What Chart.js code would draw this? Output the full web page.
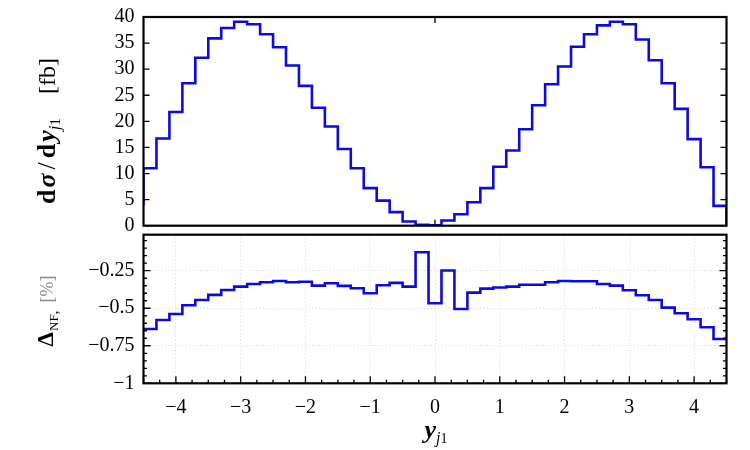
<!DOCTYPE html>
<html><head><meta charset="utf-8">
<script src="https://cdn.jsdelivr.net/npm/chart.js@4/dist/chart.umd.min.js"></script>
<style>
html,body{margin:0;padding:0;background:#fff;}
#wrap{position:relative;width:750px;height:450px;background:#fff;}
canvas{position:absolute;left:0;top:0;}
</style></head><body>
<div id="wrap"><canvas id="c1" width="750" height="450"></canvas><canvas id="c2" width="750" height="450"></canvas></div>
<script>
// ---- data ----
const binEdges = [-4.5,-4.3,-4.1,-3.9,-3.7,-3.5,-3.3,-3.1,-2.9,-2.7,-2.5,-2.3,-2.1,-1.9,-1.7,-1.5,-1.3,-1.1,-0.9,-0.7,-0.5,-0.3,-0.1,0.1,0.3,0.5,0.7,0.9,1.1,1.3,1.5,1.7,1.9,2.1,2.3,2.5,2.7,2.9,3.1,3.3,3.5,3.7,3.9,4.1,4.3,4.5];
const xsecValues = [11.0,16.7,21.8,27.3,32.2,35.9,37.9,39.1,38.6,36.7,34.2,30.7,26.8,22.6,19.0,14.7,11.0,7.2,4.8,2.6,0.8,0.15,0.1,1.0,2.2,4.5,7.2,11.3,14.4,18.5,23.1,27.1,30.5,34.3,36.7,38.4,39.1,38.6,35.7,31.7,27.3,22.4,16.6,11.2,3.8];
const xsecUnderflow = 3.9;
const xsecOverflow = 0;
const deltaValues = [-0.638,-0.578,-0.538,-0.48,-0.445,-0.411,-0.378,-0.356,-0.338,-0.327,-0.318,-0.327,-0.323,-0.349,-0.333,-0.351,-0.367,-0.40,-0.347,-0.331,-0.356,-0.127,-0.467,-0.249,-0.505,-0.396,-0.369,-0.362,-0.356,-0.343,-0.343,-0.327,-0.318,-0.32,-0.32,-0.338,-0.349,-0.38,-0.413,-0.445,-0.496,-0.533,-0.573,-0.627,-0.705];
const xTickLabels = [-4,-3,-2,-1,0,1,2,3,4];
const yTicksTop = [0,5,10,15,20,25,30,35,40];
const yTicksBottom = [-1,-0.75,-0.5,-0.25];

const SERIF = "'Liberation Serif', 'DejaVu Serif', serif";
const BLUE = 'rgb(10,10,225)';
Chart.defaults.font.family = SERIF;
Chart.defaults.font.size = 20;
Chart.defaults.color = '#000';

function fmt(v){ return (v < 0 ? '\u2212' : '') + String(Math.abs(v)); }

// histogram points (stepped 'before': horizontal first, then vertical)
const topPts = [{x: binEdges[0], y: xsecUnderflow}];
xsecValues.forEach((v,i)=>topPts.push({x: binEdges[i], y: v}));
topPts.push({x: binEdges[binEdges.length-1], y: xsecOverflow});
const botPts = [];
deltaValues.forEach((v,i)=>botPts.push({x: binEdges[i], y: v}));
botPts.push({x: binEdges[binEdges.length-1], y: deltaValues[deltaValues.length-1]});

function drawRich(ctx, segs, cx, cy, rot){
  ctx.save(); ctx.translate(cx, cy); ctx.rotate(rot);
  let total = 0;
  segs.forEach(s=>{ ctx.font = s.f; s.w = ctx.measureText(s.t).width + (s.gap||0); total += s.w; });
  let x = -total/2;
  ctx.textAlign = 'left'; ctx.textBaseline = 'alphabetic';
  segs.forEach(s=>{ ctx.font = s.f; ctx.fillStyle = s.c || '#000'; ctx.fillText(s.t, x, s.dy||0); x += s.w; });
  ctx.restore();
}

function framePlugin(cfg){
  return {
    id: 'frame' + cfg.name,
    afterDraw(chart){
      const ctx = chart.ctx, a = chart.chartArea;
      const xs = chart.scales.x, ys = chart.scales.y;
      ctx.save();
      ctx.strokeStyle = '#000';
      ctx.lineWidth = 1.3;
      ctx.beginPath();
      cfg.xTicks.forEach(t=>{
        t.vals.forEach(v=>{
          const px = xs.getPixelForValue(v);
          if (t.bottom){ ctx.moveTo(px, a.bottom); ctx.lineTo(px, a.bottom - t.len); }
          if (t.top){ ctx.moveTo(px, a.top); ctx.lineTo(px, a.top + t.len); }
        });
      });
      cfg.yTicks.forEach(t=>{
        t.vals.forEach(v=>{
          const py = ys.getPixelForValue(v);
          ctx.moveTo(a.left, py); ctx.lineTo(a.left + t.len, py);
          ctx.moveTo(a.right, py); ctx.lineTo(a.right - t.len, py);
        });
      });
      ctx.stroke();
      ctx.lineWidth = 2.2;
      ctx.strokeRect(a.left, a.top, a.right - a.left, a.bottom - a.top);
      ctx.restore();
      if (cfg.titles) cfg.titles(ctx, chart);
    }
  };
}

const common = {
  responsive: false, animation: false, devicePixelRatio: 1,
  plugins: { legend: {display:false}, tooltip: {enabled:false} }
};
function fixY(s){ s.width = 143.5; s.paddingTop = 0; s.paddingBottom = 0; }
function fixX(s){ s.height = 66.7; s.paddingLeft = 0; s.paddingRight = 0; }

// ---- top panel ----
new Chart(document.getElementById('c1'), {
  type: 'line',
  data: { datasets: [{ data: topPts, stepped: 'before', borderColor: BLUE, borderWidth: 2.6, pointRadius: 0, fill: false }] },
  options: Object.assign({}, common, {
    layout: { padding: { left: 0, right: 23.5, top: 17, bottom: 450 - 225.7 } },
    scales: {
      x: { type: 'linear', min: -4.5, max: 4.5, display: false },
      y: { type: 'linear', min: 0, max: 40,
        afterBuildTicks: s => { s.ticks = yTicksTop.map(v=>({value:v})); },
        afterFit: fixY,
        grid: { display: false, drawTicks: false }, border: { display: false },
        ticks: { padding: 9, autoSkip: false, callback: v => fmt(v), font: { size: 20 } } }
    }
  }),
  plugins: [framePlugin({
    name: 'top',
    xTicks: [{ vals: [0], len: 6, top: true, bottom: true }],
    yTicks: [{ vals: yTicksTop, len: 6 }],
    titles: (ctx)=>{
      drawRich(ctx, [
        {t:'d', f:'bold 26px '+SERIF, gap: 2},
        {t:'\u03C3', f:'italic bold 26px '+SERIF, gap: 4},
        {t:'/', f:'26px '+SERIF, gap: 4},
        {t:'d', f:'bold 26px '+SERIF, gap: 2},
        {t:'y', f:'italic bold 26px '+SERIF},
        {t:'j', f:'italic 17px '+SERIF, dy: 5},
        {t:'1', f:'15px '+SERIF, dy: 5, gap: 24},
        {t:'[fb]', f:'24px '+SERIF}
      ], 55, 131, -Math.PI/2);
    }
  })]
});

// ---- bottom panel ----
const xMinor = []; for (let v = -4.5; v <= 4.5001; v += 0.25) xMinor.push(v);
const yMinor = []; for (let v = -1; v <= -0.01; v += 0.05) yMinor.push(v);
new Chart(document.getElementById('c2'), {
  type: 'line',
  data: { datasets: [{ data: botPts, stepped: 'before', borderColor: BLUE, borderWidth: 2.6, pointRadius: 0, fill: false }] },
  options: Object.assign({}, common, {
    layout: { padding: { left: 0, right: 23.5, top: 234.7, bottom: 0 } },
    scales: {
      x: { type: 'linear', min: -4.5, max: 4.5,
        afterBuildTicks: s => { s.ticks = xTickLabels.map(v=>({value:v})); },
        afterFit: fixX,
        grid: { color: '#d4d4d4', lineWidth: 1, drawTicks: false },
        border: { display: false, dash: [1, 2.5] },
        ticks: { padding: 12, maxRotation: 0, autoSkip: false, callback: v => fmt(v), font: { size: 20 } } },
      y: { type: 'linear', min: -1, max: -0.01,
        afterBuildTicks: s => { s.ticks = yTicksBottom.map(v=>({value:v})); },
        afterFit: fixY,
        grid: { color: '#d4d4d4', lineWidth: 1, drawTicks: false },
        border: { display: false, dash: [1, 2.5] },
        ticks: { padding: 9, autoSkip: false, callback: v => fmt(v), font: { size: 20 } } }
    }
  }),
  plugins: [framePlugin({
    name: 'bot',
    xTicks: [{ vals: xTickLabels, len: 7, bottom: true }, { vals: xMinor, len: 3.5, bottom: true }],
    yTicks: [{ vals: yTicksBottom, len: 7 }, { vals: yMinor, len: 3.5 }],
    titles: (ctx)=>{
      drawRich(ctx, [
        {t:'\u0394', f:'bold 23px '+SERIF, gap: 1},
        {t:'NF', f:'13px '+SERIF, dy: 5},
        {t:',', f:'15px '+SERIF, dy: 5, gap: 8},
        {t:'[%]', f:'18px '+SERIF, c: '#8a8a8a'}
      ], 53, 311, -Math.PI/2);
      drawRich(ctx, [
        {t:'y', f:'italic bold 26px '+SERIF},
        {t:'j', f:'italic 16px '+SERIF, dy: 5},
        {t:'1', f:'14px '+SERIF, dy: 5}
      ], 436, 438, 0);
    }
  })]
});
</script>
</body></html>
